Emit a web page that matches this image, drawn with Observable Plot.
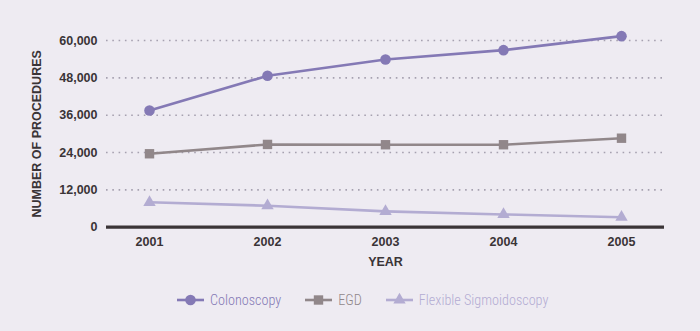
<!DOCTYPE html>
<html><head><meta charset="utf-8">
<script src="https://cdn.jsdelivr.net/npm/d3@7"></script>
<script src="https://cdn.jsdelivr.net/npm/@observablehq/plot@0.6"></script>
<style>
html,body{margin:0;padding:0;background:#eeebf2;}
#chart{width:700px;height:331px;position:relative;overflow:hidden;background:#eeebf2;}
#legend{position:absolute;top:290px;left:177px;height:20px;display:flex;align-items:center;
  font-family:"Liberation Sans Narrow","Roboto Condensed","Roboto",sans-serif;font-size:14.2px;font-weight:300;}
#legend .item{display:flex;align-items:center;margin-right:24px;}
#legend svg{margin-right:6px;}
</style></head>
<body>
<div id="chart"></div>
<script>
const years = [2001, 2002, 2003, 2004, 2005];
const colonoscopy = [37500, 48650, 53900, 56900, 61400];
const egd = [23600, 26600, 26500, 26500, 28600];
const flexSig = [8000, 6900, 5100, 4100, 3200];
const seriesNames = ["Colonoscopy", "EGD", "Flexible Sigmoidoscopy"];
const seriesColors = ["#8479b5", "#91878a", "#b3acd2"];
const seriesSymbols = ["circle", "square", "triangle"];
const yTicks = [0, 12000, 24000, 36000, 48000, 60000];

const seriesValues = [colonoscopy, egd, flexSig];
const data = [];
seriesNames.forEach((s, i) => years.forEach((y, j) => data.push({series: s, year: y, value: seriesValues[i][j]})));

const ink = "#3a3437";
const font = "'Liberation Sans', Arial, sans-serif";

const marks = [
  Plot.gridY(yTicks.filter(d => d > 0), {stroke: "#a6a1b0", strokeOpacity: 1, strokeWidth: 1.6, strokeDasharray: "1.6,4.7"}),
  Plot.ruleY([0], {stroke: ink, strokeWidth: 3.2}),
  Plot.axisY({ticks: yTicks, tickSize: 0, tickPadding: 9, tickFormat: d3.format(","), fontSize: 12.5, fontWeight: "bold", fill: ink,
    label: "NUMBER OF PROCEDURES", labelAnchor: "center", labelArrow: "none", labelOffset: 74}),
  Plot.axisX({tickSize: 0, tickPadding: 9.5, fontSize: 12.5, fontWeight: "bold", fill: ink, tickFormat: d => String(d),
    label: "YEAR", labelAnchor: "center", labelArrow: "none", labelOffset: 39}),
];
seriesNames.forEach((s, i) => {
  const rows = data.filter(d => d.series === s);
  marks.push(Plot.lineY(rows, {x: "year", y: "value", stroke: seriesColors[i], strokeWidth: 2.6}));
  marks.push(Plot.dot(rows, {x: "year", y: "value", fill: seriesColors[i], symbol: seriesSymbols[i], r: i === 2 ? 4.6 : 5.3}));
});

const plot = Plot.plot({
  width: 700, height: 280,
  marginLeft: 106, marginRight: 36, marginTop: 40, marginBottom: 53.3,
  style: {background: "transparent", fontFamily: font, color: ink},
  x: {type: "point", domain: years, padding: 0.35},
  y: {domain: [0, 60000]},
  marks
});
const chart = document.getElementById("chart");
chart.appendChild(plot);

const legend = document.createElement("div");
legend.id = "legend";
seriesNames.forEach((s, i) => {
  const item = document.createElement("div");
  item.className = "item";
  const sym = d3.symbol(i === 0 ? d3.symbolCircle : i === 1 ? d3.symbolSquare : d3.symbolTriangle, i === 2 ? 66 : 88)();
  item.innerHTML = `<svg width="27" height="20"><line x1="0" x2="27" y1="10" y2="10" stroke="${seriesColors[i]}" stroke-width="2.6"/><path d="${sym}" transform="translate(13.5,10)" fill="${seriesColors[i]}"/></svg><span style="color:${seriesColors[i]}">${s}</span>`;
  legend.appendChild(item);
});
chart.appendChild(legend);
</script>
</body></html>
